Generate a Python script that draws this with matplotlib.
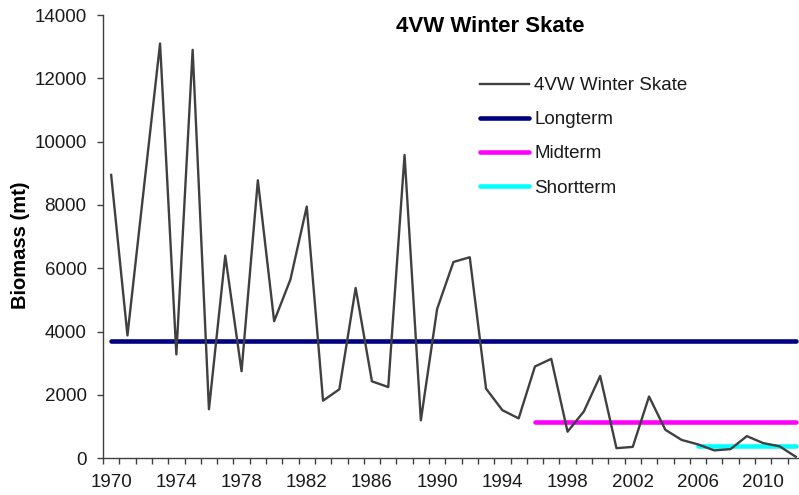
import matplotlib
matplotlib.use("Agg")
import matplotlib.pyplot as plt
import numpy as np

plt.rcParams['font.family'] = ['Liberation Sans', 'DejaVu Sans']

years = list(range(1970, 2013))
biomass = [8950, 3880, 8500, 13100, 3280, 12900, 1550, 6400, 2750, 8780,
           4330, 5650, 7950, 1820, 2180, 5380, 2430, 2250, 9580, 1200,
           4720, 6200, 6350, 2200, 1520, 1260, 2900, 3140, 840, 1480,
           2600, 320, 360, 1950, 900, 580, 440, 250, 290, 700,
           480, 380, 50]

series_name = "4VW Winter Skate"
longterm = 3720
longterm_start = 1970
midterm = 1160
midterm_start = 1996
shortterm = 400
shortterm_start = 2006
end_year = 2012

y_ticks = [0, 2000, 4000, 6000, 8000, 10000, 12000, 14000]
x_labels = list(range(1970, 2011, 4))

W, H = 799, 495
fig = plt.figure(figsize=(W / 100, H / 100), dpi=100)
left_px, right_px = 103, 803.9
bottom_px, top_px = 458.3, 15
ax = fig.add_axes([left_px / W, 1 - bottom_px / H,
                   (right_px - left_px) / W, (bottom_px - top_px) / H])

ax.plot(years, biomass, color='#404040', lw=1.7, label=series_name, zorder=3)
ax.plot([longterm_start, end_year], [longterm, longterm], color='#000080',
        lw=3.3, solid_capstyle='round', label='Longterm', zorder=2)
ax.plot([midterm_start, end_year], [midterm, midterm], color='#FF00FF',
        lw=3.3, solid_capstyle='round', label='Midterm', zorder=2)
ax.plot([shortterm_start, end_year], [shortterm, shortterm], color='#00FFFF',
        lw=3.3, solid_capstyle='round', label='Shortterm', zorder=2)

ax.set_xlim(1969.5, 2012.5)
ax.set_ylim(0, 14000)
ax.set_yticks(y_ticks)
ax.set_yticklabels([str(v) for v in y_ticks])
ax.set_xticks(x_labels)
ax.set_xticklabels([str(v) for v in x_labels])
ax.set_xticks(np.arange(1969.5, 2012.6, 1.0), minor=True)

for s in ['top', 'right']:
    ax.spines[s].set_visible(False)
for s in ['left', 'bottom']:
    ax.spines[s].set_color('#404040')
    ax.spines[s].set_linewidth(1.0)

ax.tick_params(axis='y', direction='out', length=4.3, width=1.0,
               color='#404040', labelsize=13.5, pad=7.5, labelcolor='#1a1a1a')
ax.tick_params(axis='x', which='major', length=0, labelsize=13.5, pad=11.5,
               labelcolor='#1a1a1a')
ax.tick_params(axis='x', which='minor', direction='out', length=4.3,
               width=1.0, color='#404040')

fig.text(21 / W, 1 - 245 / H, 'Biomass (mt)', rotation=90, ha='center',
         va='center', fontsize=14.5, fontweight='bold', color='black')
fig.text(490 / W, 1 - 27 / H, series_name, ha='center', va='center',
         fontsize=16, fontweight='bold', color='black')

leg = ax.legend(loc='upper left', bbox_to_anchor=(480 / W, 1 - 77 / H),
                bbox_transform=fig.transFigure, frameon=False,
                fontsize=13.5, handlelength=2.6, handletextpad=0.3,
                labelspacing=0.91, borderpad=0, borderaxespad=0)
for t in leg.get_texts():
    t.set_color('#1a1a1a')

fig.savefig('out.png', dpi=100)
